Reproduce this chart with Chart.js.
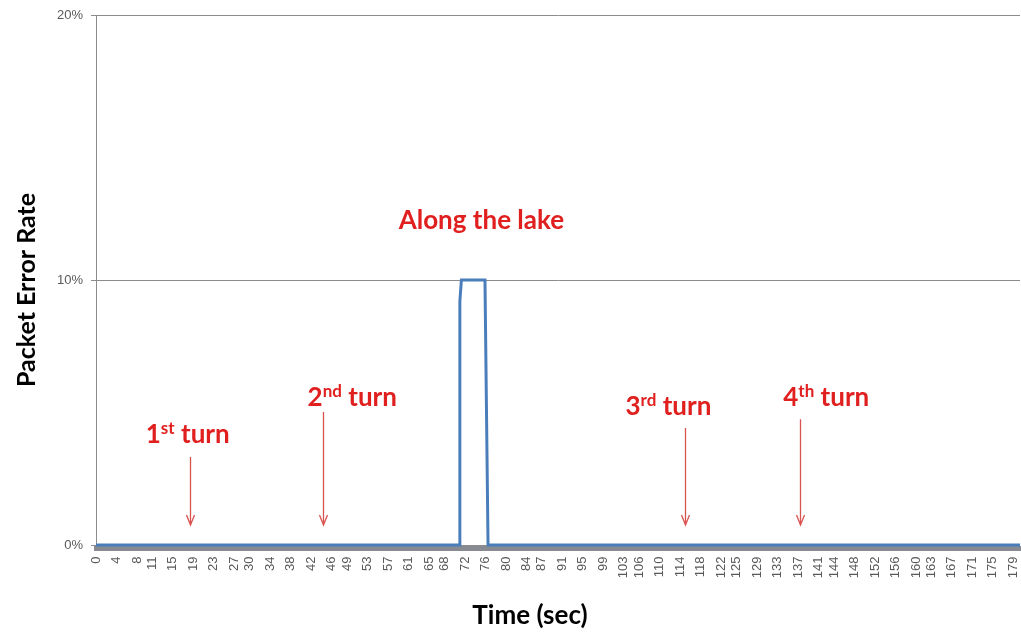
<!DOCTYPE html>
<html>
<head>
<meta charset="utf-8">
<title>Packet Error Rate over Time</title>
<script src="https://cdn.jsdelivr.net/npm/chart.js@4/dist/chart.umd.min.js"></script>
<style>
  html, body { margin: 0; padding: 0; background: #ffffff; }
  #wrap { width: 1021px; height: 634px; }
</style>
</head>
<body>
<div id="wrap"><canvas id="per" width="1021" height="634"></canvas></div>
<script>
// Measured packet error rate (%) against elapsed time (s)
const timeSec = [0, 70.9, 71.0, 71.3, 75.9, 76.5, 180.3];
const errorRate = [0, 0, 9.2, 10, 10, 0, 0];

// Axis tick labels
const timeTicks = [0, 4, 8, 11, 15, 19, 23, 27, 30, 34, 38, 42, 46, 49, 53, 57, 61, 65, 68,
  72, 76, 80, 84, 87, 91, 95, 99, 103, 106, 110, 114, 118, 122, 125, 129, 133, 137, 141,
  144, 148, 152, 156, 160, 163, 167, 171, 175, 179];
const rateTicks = [0, 10, 20];

// Route events marked on the plot
const turnNames = [['1', 'st', ' turn'], ['2', 'nd', ' turn'], ['3', 'rd', ' turn'], ['4', 'th', ' turn']];
const turnTimes = [18.3, 44.3, 115.0, 137.4];
const segmentName = 'Along the lake';

// Placement of the event labels and arrows (data coordinates)
const turnLayout = [
  { textT: 17.9, textY: 3.85, arrowTop: 3.32 },
  { textT: 50.0, textY: 5.25, arrowTop: 5.02 },
  { textT: 111.7, textY: 4.91, arrowTop: 4.42 },
  { textT: 142.5, textY: 5.25, arrowTop: 4.75 }
];
const arrowTip = 0.755;
const segmentLayout = { t: 75.2, y: 11.92 };

const RED = '#e0201f';
const ARROW_RED = '#d9534f';
const LABEL_FONT = 'Lato, "Open Sans", sans-serif';
const TICK_FONT = '"Liberation Sans", Arial, sans-serif';

function drawSupText(ctx, parts, cx, baseline, size) {
  const [base, sup, rest] = parts;
  const supSize = Math.round(size * 0.64);
  const big = `bold ${size}px ${LABEL_FONT}`;
  const small = `bold ${supSize}px ${LABEL_FONT}`;
  ctx.font = big;
  const wBase = ctx.measureText(base).width;
  const wRest = ctx.measureText(rest).width;
  ctx.font = small;
  const wSup = ctx.measureText(sup).width;
  let x = cx - (wBase + wSup + wRest) / 2;
  ctx.textAlign = 'left';
  ctx.textBaseline = 'alphabetic';
  ctx.font = big;
  ctx.fillText(base, x, baseline);
  x += wBase;
  ctx.font = small;
  ctx.fillText(sup, x, baseline - size * 0.36);
  x += wSup;
  ctx.font = big;
  ctx.fillText(rest, x, baseline);
}

const annotations = {
  id: 'annotations',
  afterDatasetsDraw(chart) {
    const { ctx, scales: { x, y } } = chart;
    ctx.save();
    ctx.fillStyle = RED;

    // segment label above the spike
    ctx.font = `bold 26px ${LABEL_FONT}`;
    ctx.textAlign = 'center';
    ctx.textBaseline = 'alphabetic';
    ctx.fillText(segmentName, x.getPixelForValue(segmentLayout.t), y.getPixelForValue(segmentLayout.y));

    turnNames.forEach((parts, i) => {
      const lay = turnLayout[i];
      ctx.fillStyle = RED;
      drawSupText(ctx, parts, x.getPixelForValue(lay.textT), y.getPixelForValue(lay.textY), 26);

      // downward arrow pointing at the turn
      const ax = Math.round(x.getPixelForValue(turnTimes[i])) + 0.5;
      const y0 = y.getPixelForValue(lay.arrowTop);
      const y1 = y.getPixelForValue(arrowTip);
      ctx.strokeStyle = ARROW_RED;
      ctx.lineWidth = 1.3;
      ctx.beginPath();
      ctx.moveTo(ax, y0);
      ctx.lineTo(ax, y1);
      ctx.moveTo(ax - 4, y1 - 10);
      ctx.lineTo(ax, y1);
      ctx.lineTo(ax + 4, y1 - 10);
      ctx.stroke();
    });

    // axis titles
    ctx.fillStyle = '#000000';
    ctx.textAlign = 'center';
    ctx.textBaseline = 'middle';
    ctx.font = `bold 26px ${LABEL_FONT}`;
    ctx.fillText('Time (sec)', 530, 616);
    ctx.font = `bold 25px ${LABEL_FONT}`;
    ctx.translate(27, 290);
    ctx.rotate(-Math.PI / 2);
    ctx.fillText('Packet Error Rate', 0, 0);
    ctx.restore();
  }
};

new Chart(document.getElementById('per'), {
  type: 'line',
  data: {
    datasets: [{
      label: 'Packet Error Rate',
      data: timeSec.map((t, i) => ({ x: t, y: errorRate[i] })),
      borderColor: '#4a7ebb',
      borderWidth: 3,
      pointRadius: 0,
      tension: 0,
      fill: false
    }]
  },
  options: {
    responsive: false,
    animation: false,
    devicePixelRatio: 1,
    layout: { padding: { top: 15, right: 1, left: 0, bottom: 0 } },
    plugins: { legend: { display: false }, tooltip: { enabled: false } },
    scales: {
      x: {
        type: 'linear',
        min: 0,
        max: 180.3,
        afterBuildTicks(scale) { scale.ticks = timeTicks.map(v => ({ value: v })); },
        afterFit(scale) {
          scale.height = 85.5;
          scale.paddingLeft = 0;
          scale.paddingRight = 0;
        },
        grid: { display: false, drawTicks: false },
        border: { display: true, color: '#878b91', width: 5 },
        ticks: {
          autoSkip: false,
          minRotation: 90,
          maxRotation: 90,
          padding: 8,
          color: '#595959',
          font: { family: TICK_FONT, size: 13 },
          callback: v => String(v)
        }
      },
      y: {
        type: 'linear',
        min: -0.13,
        max: 20,
        afterBuildTicks(scale) { scale.ticks = rateTicks.map(v => ({ value: v })); },
        afterFit(scale) {
          scale.width = 96;
          scale.paddingTop = 0;
          scale.paddingBottom = 0;
        },
        grid: { color: '#8c8c8c', lineWidth: 1, tickLength: 5, drawTicks: true },
        border: { display: true, color: '#8c8c8c', width: 1 },
        ticks: {
          padding: 8,
          color: '#595959',
          font: { family: TICK_FONT, size: 13 },
          callback: v => v + '%'
        }
      }
    }
  },
  plugins: [annotations]
});
</script>
</body>
</html>
